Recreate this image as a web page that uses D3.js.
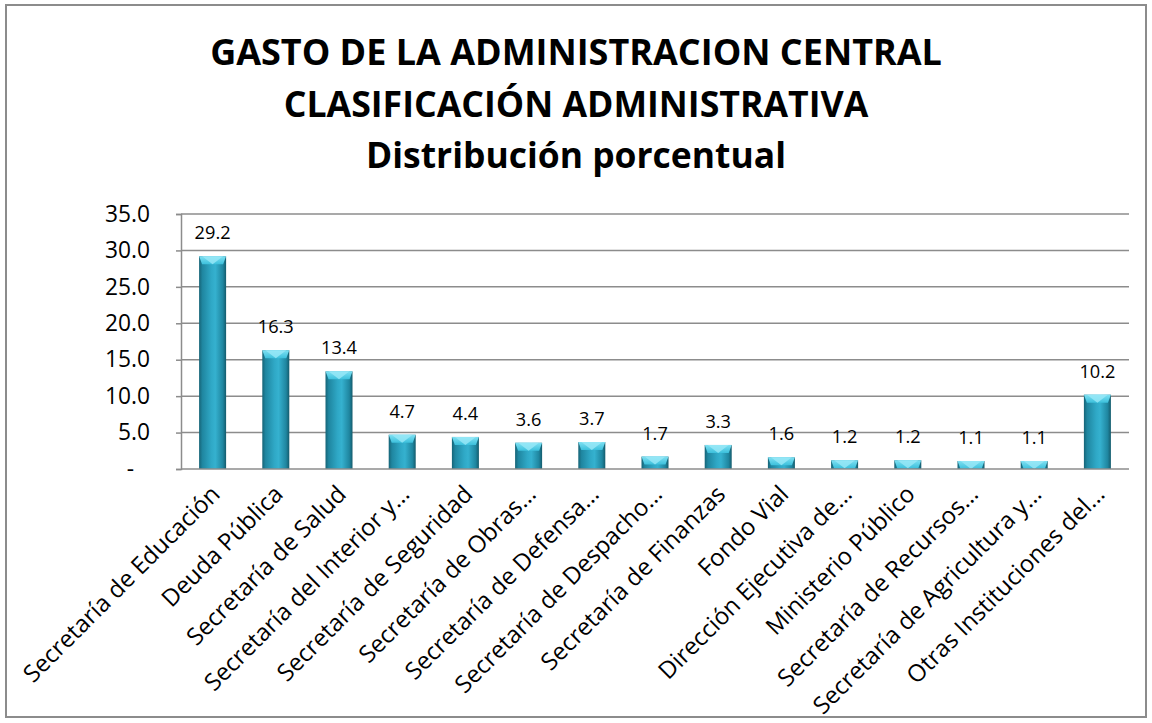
<!DOCTYPE html>
<html>
<head>
<meta charset="utf-8">
<script src="https://cdn.jsdelivr.net/npm/d3@7"></script>
<style>
  body { margin: 0; background: #fff; }
  svg text { font-family: "Open Sans", "Liberation Sans", sans-serif; fill: #000; }
</style>
</head>
<body>
<svg id="chart" width="1152" height="723"></svg>
<script>
// chart data
const categories = [
  "Secretaría de Educación", "Deuda Pública", "Secretaría de Salud",
  "Secretaría del Interior y…", "Secretaría de Seguridad", "Secretaría de Obras…",
  "Secretaría de Defensa…", "Secretaría de Despacho…", "Secretaría de Finanzas",
  "Fondo Vial", "Dirección Ejecutiva de…", "Ministerio Público",
  "Secretaría de Recursos…", "Secretaría de Agricultura y…", "Otras Instituciones del…"
];
const values = [29.2, 16.3, 13.4, 4.7, 4.4, 3.6, 3.7, 1.7, 3.3, 1.6, 1.2, 1.2, 1.1, 1.1, 10.2];
const yTicks = [0, 5, 10, 15, 20, 25, 30, 35];
const titleLines = [
  "GASTO DE LA ADMINISTRACION CENTRAL",
  "CLASIFICACIÓN ADMINISTRATIVA",
  "Distribución porcentual"
];

const svg = d3.select("#chart");
const margin = { left: 181, right: 1129, top: 214, bottom: 469 };

// helper: font size that makes a sample string a given width
function fitSize(sample, width, weight) {
  const t = svg.append("text").attr("font-size", 20).attr("font-weight", weight || "normal").text(sample);
  const w = t.node().getComputedTextLength();
  t.remove();
  return 20 * width / w;
}

// outer frame
svg.append("rect")
  .attr("x", 6).attr("y", 5).attr("width", 1140).attr("height", 712)
  .attr("fill", "#fff").attr("stroke", "#8c8c8c").attr("stroke-width", 2);

// title, fit each line to the width seen in the picture
const titleSpec = [
  { y: 65, w: 732 },
  { y: 117, w: 585 },
  { y: 168, w: 420 }
];
titleLines.forEach((t, i) => {
  svg.append("text")
    .attr("x", 576).attr("y", titleSpec[i].y)
    .attr("text-anchor", "middle")
    .attr("font-weight", "bold")
    .attr("font-size", fitSize(t, titleSpec[i].w, "bold"))
    .text(t);
});

const tickSize = fitSize("35.0", 45);
const valueSize = fitSize("29.2", 36);
const catSize = fitSize(categories[0], 266);

const x = d3.scaleBand().domain(categories).range([margin.left, margin.right]).padding(0);
const y = d3.scaleLinear().domain([0, 35]).range([margin.bottom, margin.top]);

// gridlines
svg.append("g").selectAll("line").data(yTicks.slice(1)).join("line")
  .attr("x1", margin.left).attr("x2", margin.right)
  .attr("y1", d => y(d)).attr("y2", d => y(d))
  .attr("stroke", "#8c8c8c").attr("stroke-width", 1.5);

// y axis
const yAxis = svg.append("g")
  .attr("transform", `translate(${margin.left},0)`)
  .call(d3.axisLeft(y).tickValues(yTicks).tickSize(5).tickPadding(26)
    .tickFormat(d => d === 0 ? "-" : d.toFixed(1)));
yAxis.select(".domain").attr("stroke", "#8c8c8c").attr("stroke-width", 1.5);
yAxis.selectAll(".tick line").attr("stroke", "#8c8c8c").attr("stroke-width", 1.5);
yAxis.selectAll(".tick text").attr("font-size", tickSize).attr("font-family", "Open Sans").attr("fill", "#000");
yAxis.selectAll(".tick text").filter(d => d === 0).attr("dx", -16);

// bar gradients
const defs = svg.append("defs");
const body = defs.append("linearGradient").attr("id", "barBody").attr("x1", 0).attr("x2", 1).attr("y1", 0).attr("y2", 0);
[[0, "#166477"], [0.12, "#1f86a0"], [0.45, "#2fa8c6"], [0.6, "#35b1cf"], [0.88, "#1f86a0"], [1, "#145b6c"]]
  .forEach(s => body.append("stop").attr("offset", s[0]).attr("stop-color", s[1]));
const cap = defs.append("linearGradient").attr("id", "barCap").attr("x1", 0).attr("x2", 0).attr("y1", 0).attr("y2", 1);
[[0, "#7fe0f2"], [1, "#3cc0dc"]]
  .forEach(s => cap.append("stop").attr("offset", s[0]).attr("stop-color", s[1]));

const barW = 27;
const bars = svg.append("g").selectAll("g").data(categories).join("g")
  .attr("transform", d => `translate(${x(d) + x.bandwidth() / 2 - barW / 2},0)`);

bars.append("rect")
  .attr("x", 0).attr("width", barW)
  .attr("y", (d, i) => y(values[i]))
  .attr("height", (d, i) => y(0) - y(values[i]))
  .attr("fill", "url(#barBody)");

// bevelled top
bars.append("path")
  .attr("d", (d, i) => {
    const t = y(values[i]);
    const h = Math.min(8, y(0) - t);
    return `M0,${t} L${barW},${t} L${barW - 3},${t + h} L3,${t + h} Z`;
  })
  .attr("fill", "url(#barCap)");
bars.append("path")
  .attr("d", (d, i) => {
    const t = y(values[i]);
    const h = Math.min(8, y(0) - t);
    return `M3,${t} L${barW - 3},${t} L${barW / 2},${t + h} Z`;
  })
  .attr("fill", "#9ae9f7").attr("opacity", 0.8);

// x axis line
svg.append("line")
  .attr("x1", margin.left).attr("x2", margin.right)
  .attr("y1", y(0)).attr("y2", y(0))
  .attr("stroke", "#8c8c8c").attr("stroke-width", 1.5);

// value labels
svg.append("g").selectAll("text").data(categories).join("text")
  .attr("x", d => x(d) + x.bandwidth() / 2)
  .attr("y", (d, i) => y(values[i]) - 17)
  .attr("text-anchor", "middle")
  .attr("font-size", valueSize)
  .text((d, i) => values[i].toFixed(1));

// category labels, rotated
svg.append("g").selectAll("text").data(categories).join("text")
  .attr("transform", d => `translate(${x(d) + x.bandwidth() / 2 - 4},${y(0) + 14}) rotate(-45)`)
  .attr("text-anchor", "end")
  .attr("dy", "0.75em")
  .attr("font-size", catSize)
  .text(d => d);
</script>
</body>
</html>
